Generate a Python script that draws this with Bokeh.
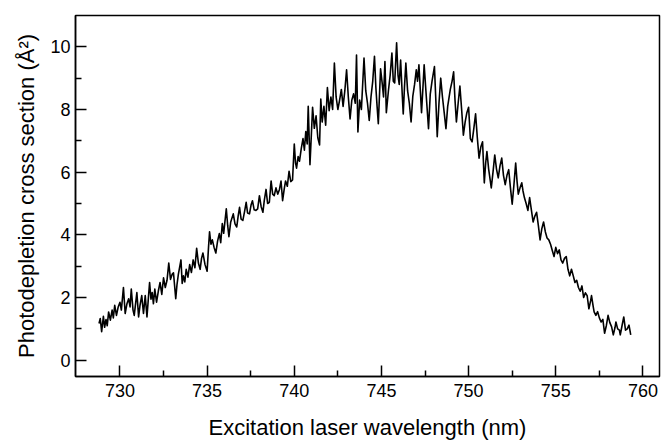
from bokeh.plotting import figure
from bokeh.models import FixedTicker, Range1d
from bokeh.embed import file_html
from bokeh.resources import INLINE

# Excitation laser wavelength (nm)
wavelength = [
    728.80, 728.87, 728.95, 729.05, 729.12, 729.20, 729.27, 729.35, 729.45, 729.55,
    729.62, 729.70, 729.80, 729.90, 730.00, 730.08, 730.20, 730.30, 730.40, 730.50,
    730.58, 730.65, 730.75, 730.82, 730.97, 731.07, 731.15, 731.25, 731.35, 731.45,
    731.55, 731.62, 731.70, 731.78, 731.85, 731.92, 732.00, 732.10, 732.20, 732.30,
    732.40, 732.50, 732.60, 732.70, 732.80, 732.90, 733.00, 733.07, 733.20, 733.27,
    733.35, 733.50, 733.57, 733.64, 733.72, 733.80, 733.90, 734.00, 734.10, 734.20,
    734.30, 734.40, 734.50, 734.60, 734.68, 734.76, 734.88, 735.00, 735.08, 735.14,
    735.22, 735.30, 735.40, 735.50, 735.60, 735.70, 735.78, 735.87, 735.95, 736.10,
    736.18, 736.25, 736.35, 736.50, 736.60, 736.70, 736.78, 736.86, 736.95, 737.05,
    737.15, 737.24, 737.32, 737.43, 737.52, 737.60, 737.70, 737.80, 737.90, 738.00,
    738.10, 738.20, 738.28, 738.38, 738.47, 738.57, 738.67, 738.76, 738.85, 738.95,
    739.05, 739.15, 739.24, 739.33, 739.42, 739.50, 739.60, 739.70, 739.80, 739.90,
    740.00, 740.07, 740.13, 740.22, 740.30, 740.40, 740.50, 740.58, 740.66, 740.74,
    740.80, 740.90, 740.98, 741.05, 741.15, 741.25, 741.35, 741.45, 741.52, 741.60,
    741.70, 741.80, 741.90, 742.00, 742.10, 742.20, 742.30, 742.40, 742.50, 742.60,
    742.70, 742.80, 742.90, 743.00, 743.10, 743.20, 743.30, 743.40, 743.50, 743.57,
    743.65, 743.75, 743.85, 744.00, 744.10, 744.20, 744.30, 744.40, 744.50, 744.60,
    744.68, 744.75, 744.82, 744.95, 745.05, 745.12, 745.20, 745.28, 745.40, 745.50,
    745.60, 745.68, 745.76, 745.87, 745.95, 746.02, 746.10, 746.20, 746.25, 746.32,
    746.40, 746.50, 746.60, 746.70, 746.80, 746.90, 747.00, 747.07, 747.15, 747.30,
    747.38, 747.45, 747.55, 747.70, 747.80, 747.90, 748.04, 748.12, 748.20, 748.30,
    748.40, 748.50, 748.60, 748.70, 748.80, 748.95, 749.05, 749.14, 749.22, 749.30,
    749.40, 749.50, 749.60, 749.70, 749.80, 749.90, 750.00, 750.10, 750.20, 750.30,
    750.40, 750.50, 750.60, 750.70, 750.80, 750.90, 750.98, 751.05, 751.15, 751.30,
    751.40, 751.50, 751.60, 751.70, 751.80, 751.90, 752.00, 752.10, 752.20, 752.30,
    752.40, 752.50, 752.60, 752.70, 752.78, 752.85, 752.95, 753.05, 753.12, 753.20,
    753.30, 753.40, 753.50, 753.60, 753.70, 753.80, 753.90, 754.00, 754.10, 754.20,
    754.30, 754.40, 754.50, 754.60, 754.70, 754.80, 754.90, 755.00, 755.10, 755.20,
    755.30, 755.40, 755.50, 755.60, 755.70, 755.80, 755.90, 756.00, 756.10, 756.20,
    756.30, 756.40, 756.50, 756.60, 756.70, 756.80, 756.90, 757.00, 757.05, 757.15,
    757.20, 757.30, 757.40, 757.50, 757.60, 757.70, 757.80, 757.90, 758.00, 758.10,
    758.20, 758.30, 758.40, 758.45, 758.55, 758.65, 758.70, 758.80, 758.90, 759.00,
    759.10, 759.20, 759.30,
]

# Photodepletion cross section (A^2)
cross_section = [
    1.17, 1.33, 0.91, 1.40, 1.05, 1.30, 1.10, 1.54, 1.28, 1.60,
    1.35, 1.75, 1.43, 1.70, 1.85, 1.60, 2.32, 1.49, 1.80, 1.96,
    1.70, 2.27, 1.60, 1.43, 2.16, 1.38, 1.75, 2.06, 1.49, 2.06,
    1.38, 1.90, 2.48, 1.95, 2.16, 1.80, 2.27, 1.85, 2.20, 2.48,
    2.10, 2.63, 2.32, 2.55, 3.10, 2.58, 2.75, 2.79, 1.96, 2.40,
    2.74, 3.20, 2.45, 2.69, 2.50, 2.90, 2.65, 3.05, 2.80, 3.20,
    2.95, 3.57, 3.10, 2.90, 3.25, 3.42, 3.05, 2.84, 3.60, 4.10,
    3.70, 3.84, 3.60, 3.42, 3.80, 4.04, 3.75, 4.36, 4.05, 4.83,
    4.30, 3.94, 4.40, 4.67, 4.35, 4.25, 4.60, 4.88, 4.50, 4.46,
    4.75, 5.04, 4.70, 4.67, 4.95, 5.09, 4.80, 4.78, 4.83, 5.25,
    4.90, 4.72, 5.10, 5.45, 5.00, 5.04, 5.72, 5.30, 5.25, 5.50,
    5.30, 5.45, 5.72, 5.09, 5.45, 5.72, 5.55, 6.03, 5.70, 5.75,
    6.90, 6.30, 6.13, 6.50, 6.35, 6.75, 7.07, 6.70, 7.30, 6.90,
    8.10, 6.24, 7.20, 8.07, 7.40, 7.80, 7.10, 6.87, 8.33, 7.60,
    8.10, 7.50, 8.70, 7.96, 8.40, 8.00, 9.48, 8.40, 8.00, 8.30,
    8.64, 8.10, 8.60, 9.27, 8.40, 7.70, 8.30, 8.50, 8.20, 9.74,
    7.28, 8.30, 8.00, 9.64, 8.60, 8.20, 7.65, 8.40, 8.90, 9.70,
    8.70, 8.10, 7.55, 9.30, 8.80, 8.40, 9.53, 7.90, 8.60, 9.10,
    9.80, 8.90, 8.85, 10.13, 9.10, 8.80, 9.58, 8.40, 7.86, 8.70,
    9.48, 8.60, 8.20, 7.60, 8.43, 8.80, 9.27, 8.90, 9.43, 7.90,
    8.70, 9.43, 8.60, 7.39, 8.49, 8.90, 9.37, 8.30, 7.13, 8.20,
    9.00, 8.40, 7.90, 7.39, 8.10, 8.64, 8.90, 9.20, 8.30, 7.60,
    8.20, 8.75, 8.00, 7.18, 7.60, 7.90, 8.07, 7.07, 6.97, 7.40,
    7.86, 7.10, 6.45, 6.80, 6.97, 5.66, 6.30, 6.66, 6.10, 5.50,
    6.00, 6.55, 6.10, 5.82, 6.20, 6.45, 5.90, 5.60, 5.90, 6.08,
    5.50, 4.98, 5.60, 6.29, 5.70, 5.30, 5.50, 5.66, 5.40, 5.19,
    5.00, 4.78, 5.19, 4.80, 4.41, 4.60, 4.72, 4.30, 3.84, 4.20,
    4.41, 4.10, 3.90, 3.84, 3.70, 3.50, 3.31, 3.60, 3.40, 3.52,
    3.20, 3.10, 3.25, 3.31, 2.90, 2.69, 2.90, 2.70, 2.48, 2.55,
    2.32, 2.20, 2.37, 2.00, 2.15, 2.06, 1.64, 1.90, 2.06, 1.70,
    1.54, 1.43, 1.55, 1.35, 1.22, 1.30, 0.86, 1.10, 1.43, 1.20,
    1.07, 0.81, 1.05, 1.22, 1.00, 0.96, 0.81, 1.10, 1.38, 0.96,
    1.00, 1.12, 0.81,
]

x_ticks = [730, 735, 740, 745, 750, 755, 760]
x_minor = [732.5, 737.5, 742.5, 747.5, 752.5, 757.5]
y_ticks = [0, 2, 4, 6, 8, 10]
y_minor = [1, 3, 5, 7, 9]

FONT = "Liberation Sans"

p = figure(width=661, height=442, output_backend="svg", toolbar_location=None,
           x_range=Range1d(727.45, 760.95), y_range=Range1d(-0.52, 11.0),
           min_border_left=75, min_border_right=2, min_border_top=15,
           min_border_bottom=60)

p.line(wavelength, cross_section, line_color="black", line_width=1.6,
       line_join="round")

p.grid.visible = False
p.outline_line_color = "black"
p.outline_line_width = 1.5
p.background_fill_color = "white"
p.border_fill_color = "white"

p.xaxis.ticker = FixedTicker(ticks=x_ticks, minor_ticks=x_minor)
p.yaxis.ticker = FixedTicker(ticks=y_ticks, minor_ticks=y_minor)

for ax in (p.xaxis, p.yaxis):
    ax.axis_line_color = "black"
    ax.axis_line_width = 1.5
    ax.major_tick_line_color = "black"
    ax.minor_tick_line_color = "black"
    ax.major_tick_line_width = 1.5
    ax.minor_tick_line_width = 1.5
    ax.major_tick_in = 11
    ax.major_tick_out = 0
    ax.minor_tick_in = 6
    ax.minor_tick_out = 0
    ax.major_label_text_font = FONT
    ax.major_label_text_font_size = "18px"
    ax.major_label_text_color = "black"
    ax.axis_label_text_font = FONT
    ax.axis_label_text_font_size = "22px"
    ax.axis_label_text_font_style = "normal"
    ax.axis_label_text_color = "black"

p.xaxis.axis_label = "Excitation laser wavelength (nm)"
p.yaxis.axis_label = "Photodepletion cross section (Å²)"
p.xaxis.major_label_standoff = 7
p.yaxis.major_label_standoff = 5
p.xaxis.axis_label_standoff = 15
p.yaxis.axis_label_standoff = 8

open("out.html", "w").write(file_html(p, INLINE))
